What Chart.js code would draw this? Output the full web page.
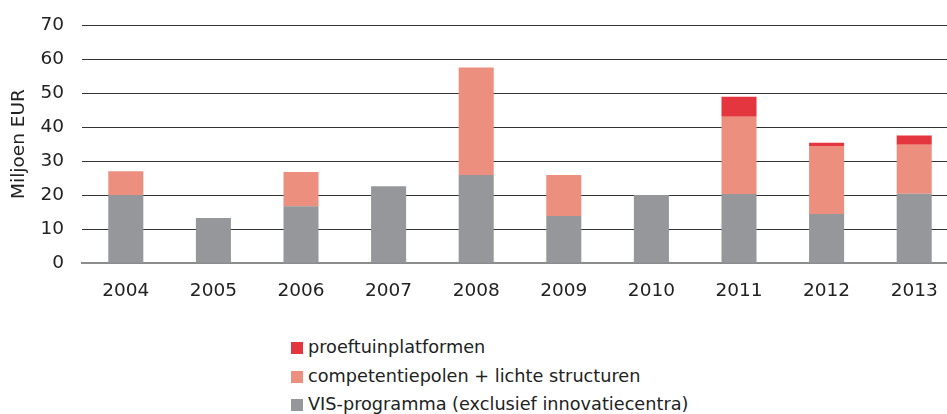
<!DOCTYPE html>
<html>
<head>
<meta charset="utf-8">
<script src="https://cdn.jsdelivr.net/npm/chart.js@4"></script>
<style>
    html, body { margin: 0; padding: 0; background: #fff; overflow: hidden; }
    #wrap { position: absolute; left: 0; top: 0; width: 958px; height: 312px; }
    #legend { position: absolute; left: 291px; top: 333px; font: 17.7px "DejaVu Sans", sans-serif; color: #222; }
    #legend div { height: 28.5px; line-height: 28.5px; white-space: nowrap; }
    #legend span.box { display: inline-block; width: 12px; height: 12px; margin-right: 5px; vertical-align: -1px; }
</style>
</head>
<body>
<div id="wrap"><canvas id="chart"></canvas></div>
<div id="legend"></div>
<script>
    const years = ["2004", "2005", "2006", "2007", "2008", "2009", "2010", "2011", "2012", "2013"];
    const visProgramma = [20, 13.2, 16.7, 22.6, 25.9, 13.8, 20, 20.3, 14.4, 20.4];
    const competentiepolen = [7.0, 0, 10.1, 0, 31.6, 12.1, 0, 22.7, 20.0, 14.4];
    const proeftuinen = [0, 0, 0, 0, 0, 0, 0, 5.9, 1.0, 2.7];

    const font = { family: "DejaVu Sans", size: 18.5 };

    const datasets = [
        { label: "VIS-programma (exclusief innovatiecentra)", data: visProgramma, backgroundColor: "#96979b" },
        { label: "competentiepolen + lichte structuren", data: competentiepolen, backgroundColor: "#ec8f7e" },
        { label: "proeftuinplatformen", data: proeftuinen, backgroundColor: "#e3363e" }
    ].map(function (d) {
        return Object.assign(d, { borderWidth: 0, barPercentage: 0.4, categoryPercentage: 1 });
    });

    const chart = new Chart(document.getElementById("chart").getContext("2d"), {
        type: "bar",
        data: { labels: years, datasets: datasets },
        options: {
            responsive: true,
            maintainAspectRatio: false,
            animation: false,
            layout: { padding: { top: 25, left: 0, right: 0, bottom: 0 } },
            plugins: {
                legend: { display: false },
                tooltip: { enabled: false }
            },
            scales: {
                x: {
                    stacked: true,
                    grid: { display: false },
                    border: { color: "#8c8c8c", width: 2 },
                    ticks: { color: "#222", font: font, padding: 9 },
                    afterFit: function (s) { s.height = 49; }
                },
                y: {
                    stacked: true,
                    min: 0,
                    max: 70,
                    // tick padding would also pad the top of the chart area, so use an invisible tick mark for the gap
                    ticks: { stepSize: 10, color: "#222", font: font, padding: 0 },
                    grid: { color: "#333", lineWidth: 1, drawTicks: true, tickLength: 18, tickColor: "rgba(0,0,0,0)" },
                    border: { display: false },
                    title: { display: true, text: "Miljoen EUR", color: "#222", font: font, padding: { top: 8, bottom: 0 } },
                    afterFit: function (s) { s.width = 82; }
                }
            }
        }
    });

    // legend, top item = last dataset
    const legend = document.getElementById("legend");
    datasets.slice().reverse().forEach(function (d) {
        const row = document.createElement("div");
        const box = document.createElement("span");
        box.className = "box";
        box.style.background = d.backgroundColor;
        row.appendChild(box);
        row.appendChild(document.createTextNode(d.label));
        legend.appendChild(row);
    });
</script>
</body>
</html>
